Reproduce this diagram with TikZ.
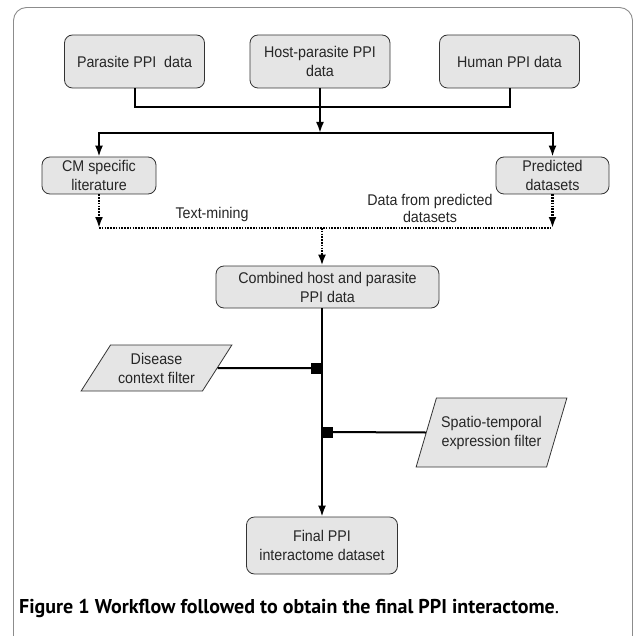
\documentclass[tikz,border=0pt]{standalone}
\usepackage{fontspec}
\setmainfont{Liberation Sans}[FakeStretch=0.92]
\newfontfamily\capfont{PT Sans}
\usetikzlibrary{shapes.geometric,arrows.meta}
\definecolor{boxfill}{gray}{0.9}
\definecolor{txt}{gray}{0.15}
\definecolor{framec}{gray}{0.55}
\begin{document}
\begin{tikzpicture}[x=1pt,y=-1pt,
  box/.style={draw=black!80, line width=0.8pt, fill=boxfill, rounded corners=8pt,
    align=center, font=\fontsize{15.5}{19}\selectfont, text=txt, inner sep=0pt},
  para/.style={trapezium, trapezium stretches=true, draw=black!80, line width=0.8pt,
    fill=boxfill, align=center, font=\fontsize{15.5}{19}\selectfont, text=txt, inner sep=0pt},
  lbl/.style={align=center, font=\fontsize{15.5}{17}\selectfont, text=txt, inner sep=0pt},
  conn/.style={line width=2pt},
  tip/.style={-{Latex[length=11pt,width=8pt]}},
  dots/.style={line width=2.4pt, dash pattern=on 1.6pt off 1.2pt},
  jbox/.style={fill=black, minimum size=11pt, inner sep=0pt}
]
\useasboundingbox (0,0) rectangle (635,636);
\draw[framec, line width=0.9pt, rounded corners=13pt] (13.5,7.5) rectangle (632.5,650);

% top boxes
\node[box, minimum width=140, minimum height=53] (par) at (134.5,61.5) {Parasite PPI\ \ data};
\node[box, minimum width=140, minimum height=53] (host) at (320,61.5) {Host-parasite PPI\\data};
\node[box, minimum width=140, minimum height=53] (hum) at (509.5,61.5) {Human PPI data};

\coordinate (b1) at (320,107);
\coordinate (b2) at (320,133);

\draw[conn] (par.south) -- (par.south |- b1) -- (hum.south |- b1) -- (hum.south);
\draw[conn, tip] (host.south) -- (b2);

% second row
\node[box, minimum width=114, minimum height=37] (cm) at (99,175.5) {CM specific\\literature};
\node[box, minimum width=113, minimum height=37] (pred) at (552.5,175.5) {Predicted\\datasets};

\draw[conn, {Latex[length=11pt,width=8pt]}-{Latex[length=11pt,width=8pt]}]
  (cm.north) -- (cm.north |- b2) -- (pred.north |- b2) -- (pred.north);

% dotted merge
\coordinate (dl) at (322,228);
\draw[dots, tip] (cm.south) -- (cm.south |- dl);
\draw[dots, tip] (pred.south) -- (pred.south |- dl);
\draw[dots] (cm.south |- dl) -- (pred.south |- dl);

\node[lbl] (tm) at (212,214) {Text-mining};
\node[lbl] (dp) at (430,208) {Data from predicted\\datasets};

\node[box, minimum width=223, minimum height=42] (comb) at (327.5,287) {Combined host and parasite\\PPI data};
\draw[dots, tip] (dl) -- (dl |- comb.north);

% final
\node[box, minimum width=151, minimum height=57] (fin) at (322,545.5) {Final PPI\\interactome dataset};
\coordinate (vt) at (322,308);
\draw[conn, tip] (vt) -- (fin.north);

% filters
\node[para, trapezium left angle=51, trapezium right angle=129, minimum width=151, minimum height=46] (dis) at (156.5,368) {Disease\\context filter};
\node[para, trapezium left angle=61, trapezium right angle=119, minimum width=151, minimum height=69] (spt) at (491.5,432.5) {Spatio-temporal\\expression filter};

\node[jbox] (j1) at (316.5,368) {};
\node[jbox] (j2) at (327.5,432) {};
\draw[conn] (dis.east) -- (j1);
\draw[conn] (j2) -- (spt.west);

% caption
\node[anchor=base west, inner sep=0pt, font=\capfont\fontsize{20}{23}\selectfont] (cap) at (19,613)
  {\textbf{Figure 1 Workflow followed to obtain the final PPI interactome}.};
\end{tikzpicture}
\end{document}
